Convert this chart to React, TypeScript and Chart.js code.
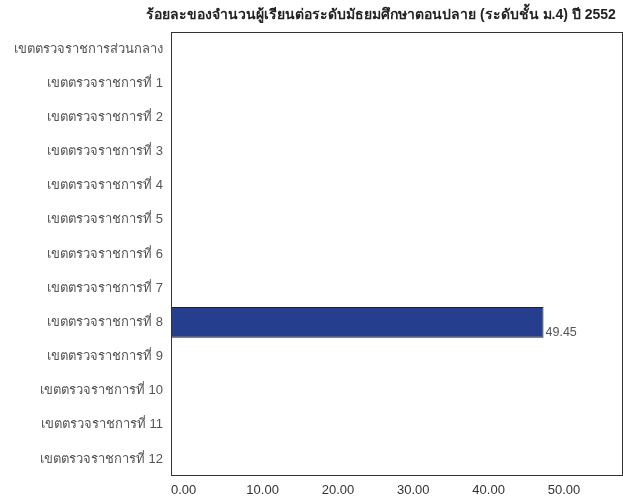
import React, { useEffect, useRef } from "react";
import { Chart, registerables } from "chart.js";

Chart.register(...registerables);

const TITLE = "ร้อยละของจำนวนผู้เรียนต่อระดับมัธยมศึกษาตอนปลาย (ระดับชั้น ม.4) ปี 2552";
const categories = [
  "เขตตรวจราชการส่วนกลาง",
  "เขตตรวจราชการที่ 1",
  "เขตตรวจราชการที่ 2",
  "เขตตรวจราชการที่ 3",
  "เขตตรวจราชการที่ 4",
  "เขตตรวจราชการที่ 5",
  "เขตตรวจราชการที่ 6",
  "เขตตรวจราชการที่ 7",
  "เขตตรวจราชการที่ 8",
  "เขตตรวจราชการที่ 9",
  "เขตตรวจราชการที่ 10",
  "เขตตรวจราชการที่ 11",
  "เขตตรวจราชการที่ 12",
];
const values = [0, 0, 0, 0, 0, 0, 0, 0, 49.45, 0, 0, 0, 0];
const xTicks = [0, 10, 20, 30, 40, 50];
const X_MAX = 60;

const FONT = "'Liberation Sans', Arial, sans-serif";

const titlePlugin = {
  id: "customTitle",
  afterDraw(chart: any) {
    const { ctx } = chart;
    ctx.save();
    ctx.font = "bold 14px " + FONT;
    ctx.fillStyle = "#222222";
    ctx.textAlign = "center";
    ctx.textBaseline = "middle";
    ctx.fillText(TITLE, 381, 15);
    ctx.restore();
  },
};

const framePlugin = {
  id: "frame",
  afterDatasetsDraw(chart: any) {
    const { ctx, chartArea } = chart;
    ctx.save();
    ctx.strokeStyle = "#333333";
    ctx.lineWidth = 1;
    ctx.strokeRect(
      Math.round(chartArea.left) + 0.5,
      Math.round(chartArea.top) + 0.5,
      Math.round(chartArea.right - chartArea.left) - 1,
      Math.round(chartArea.bottom - chartArea.top) - 1
    );
    ctx.restore();
  },
};

const valueLabelPlugin = {
  id: "valueLabels",
  afterDatasetsDraw(chart: any) {
    const { ctx } = chart;
    const meta = chart.getDatasetMeta(0);
    ctx.save();
    ctx.font = "12.5px " + FONT;
    ctx.fillStyle = "#555555";
    ctx.textAlign = "left";
    ctx.textBaseline = "middle";
    meta.data.forEach((bar: any, i: number) => {
      const v = values[i];
      if (!v) return;
      ctx.fillText(v.toFixed(2), bar.x + 2, bar.y + bar.height / 2 - 5);
    });
    ctx.restore();
  },
};

export default function App() {
  const ref = useRef<HTMLCanvasElement>(null);
  useEffect(() => {
    document.body.style.margin = "0";
    const chart = new Chart(ref.current!, {
      type: "bar",
      data: {
        labels: categories,
        datasets: [
          {
            data: values,
            backgroundColor: "#253f8e",
            borderColor: "#222222",
            borderWidth: 1,
            barPercentage: 0.9,
            categoryPercentage: 1,
          },
        ],
      },
      options: {
        indexAxis: "y",
        animation: false,
        responsive: false,
        maintainAspectRatio: false,
        layout: { padding: { left: 0, right: 0, top: 32, bottom: 0 } },
        plugins: {
          legend: { display: false },
          tooltip: { enabled: false },
          title: { display: false },
        },
        scales: {
          x: {
            min: 0,
            max: X_MAX,
            afterBuildTicks(scale: any) {
              scale.ticks = xTicks.map((v) => ({ value: v }));
            },
            afterFit(scale: any) {
              scale.height = 23;
              scale.paddingRight = 0;
            },
            grid: { display: false, drawTicks: false },
            border: { display: false },
            ticks: {
              align: "start",
              padding: 7,
              color: "#333333",
              font: { family: FONT, size: 13 },
              callback: (v: any) => Number(v).toFixed(2),
            },
          },
          y: {
            afterFit(scale: any) {
              scale.width = 171;
            },
            grid: { display: false, drawTicks: false },
            border: { display: false },
            ticks: {
              padding: 8,
              color: "#555555",
              font: { family: FONT, size: 13 },
            },
          },
        },
      },
      plugins: [framePlugin, valueLabelPlugin, titlePlugin],
    });
    return () => chart.destroy();
  }, []);
  return <canvas ref={ref} width={623} height={499} style={{ display: "block" }} />;
}
